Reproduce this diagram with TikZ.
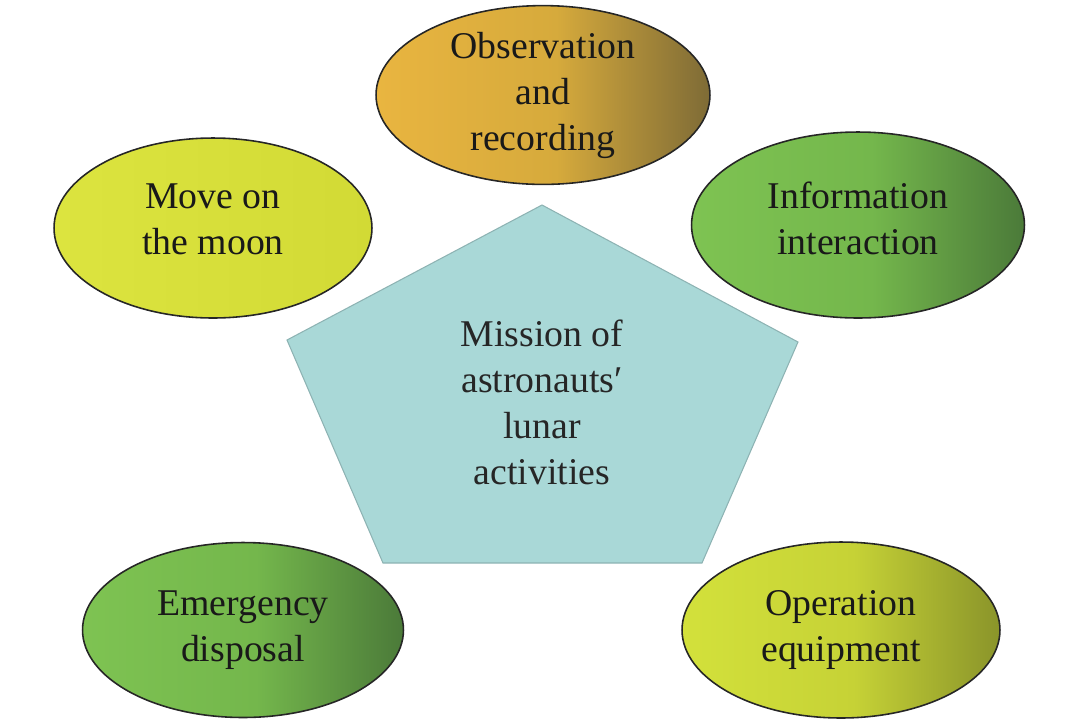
\documentclass[tikz,border=0pt]{standalone}
\usepackage{fontspec}
\setmainfont{Liberation Serif}
\usetikzlibrary{shapes.geometric}

\definecolor{goldL}{HTML}{E9B540}
\definecolor{goldM}{HTML}{D6AA3C}
\definecolor{goldR}{HTML}{7E6B36}
\definecolor{limeL}{HTML}{DCE43F}
\definecolor{limeR}{HTML}{D2DA35}
\definecolor{grnL}{HTML}{7EC352}
\definecolor{grnM}{HTML}{74B74C}
\definecolor{grnR}{HTML}{4B7A39}
\definecolor{oliL}{HTML}{D3E13B}
\definecolor{oliM}{HTML}{C6D236}
\definecolor{oliR}{HTML}{8A942A}
\definecolor{penta}{HTML}{A9D8D7}
\definecolor{pentaedge}{HTML}{8DB3B3}

\pgfdeclarehorizontalshading{goldshade}{100bp}{color(0bp)=(goldL); color(25bp)=(goldL); color(52bp)=(goldM); color(75bp)=(goldR); color(100bp)=(goldR)}
\pgfdeclarehorizontalshading{limeshade}{100bp}{color(0bp)=(limeL); color(25bp)=(limeL); color(75bp)=(limeR); color(100bp)=(limeR)}
\pgfdeclarehorizontalshading{grnshade}{100bp}{color(0bp)=(grnL); color(25bp)=(grnL); color(52bp)=(grnM); color(75bp)=(grnR); color(100bp)=(grnR)}
\pgfdeclarehorizontalshading{olishade}{100bp}{color(0bp)=(oliL); color(25bp)=(oliL); color(52bp)=(oliM); color(75bp)=(oliR); color(100bp)=(oliR)}

\begin{document}
\begin{tikzpicture}[x=0.02cm,y=-0.02cm,font=\fontsize{21.5}{26.2}\selectfont,
  task/.style={ellipse,draw=black!85,line width=0.9pt,inner sep=0pt,align=center,text=black!90}]
  \useasboundingbox (0,0) rectangle (1080,725);
  % pentagono centrale
  \draw[fill=penta,draw=pentaedge,line width=0.6pt] (542,205)--(798,342)--(702,563)--(383,563)--(287,340)--cycle;
  \node[align=center,text=black!85] (mission) at (542,402) {Mission of\\astronauts′\\lunar\\activities};
  % attivita attorno
  \node[task,shading=goldshade,minimum width=6.68cm,minimum height=3.4cm] (observe) at (543,95) {Observation\\and\\recording};
  \node[task,shading=limeshade,minimum width=6.36cm,minimum height=3.6cm,text depth=10pt] (move) at (213,228) {Move on\\the moon};
  \node[task,shading=grnshade,minimum width=6.66cm,minimum height=3.72cm,text depth=8pt] (info) at (858,225) {Information\\interaction};
  \node[task,shading=grnshade,minimum width=6.42cm,minimum height=3.5cm] (emergency) at (243,630) {Emergency\\disposal};
  \node[task,shading=olishade,minimum width=6.36cm,minimum height=3.52cm] (operate) at (841,630) {Operation\\equipment};
\end{tikzpicture}
\end{document}
